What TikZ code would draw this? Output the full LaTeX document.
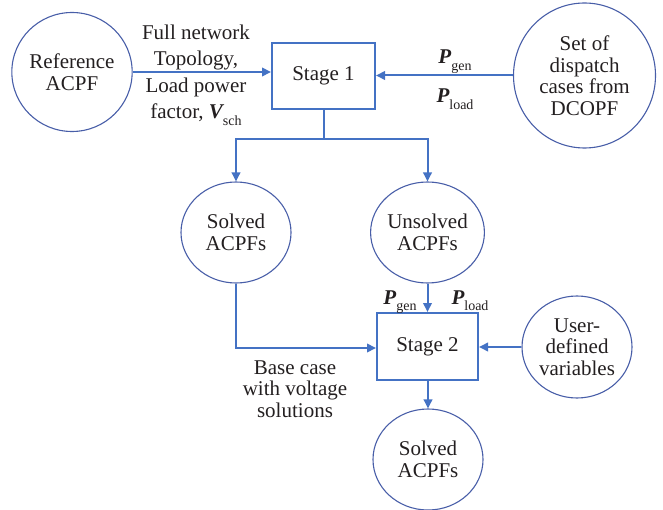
\documentclass[tikz,border=0pt]{standalone}
\usepackage{amsmath}
\usepackage{fontspec}
\setmainfont{Liberation Serif}
\newfontfamily\timesfont{Liberation Serif}
\usetikzlibrary{arrows.meta,shapes.geometric}
\definecolor{flow}{RGB}{68,114,196}
\definecolor{rim}{RGB}{72,94,168}
\definecolor{ink}{RGB}{35,31,32}
% bold italic quantity with an upright subscript, all in the text font
\newcommand{\qvar}[2]{{\bfseries\itshape #1}\raisebox{-0.32em}{\fontsize{14}{14}\selectfont #2}}
\begin{document}
\begin{tikzpicture}[x=1pt,y=-1pt,
  txt/.style={font=\timesfont\fontsize{21}{21.5}\selectfont, text=ink, align=center, inner sep=0pt},
  bubble/.style={ellipse, draw=rim, line width=1.1pt, txt},
  stagebox/.style={rectangle, draw=flow, line width=2pt, txt},
  flowline/.style={draw=flow, line width=2pt},
  flowarrow/.style={flowline, -{Triangle[length=9pt,width=8.5pt]}}]
\useasboundingbox (0,0) rectangle (663,510);

% inputs and stage 1
\node[bubble, minimum width=118pt, minimum height=119pt] (ref) at (72,72) {Reference\\ACPF};
\node[stagebox, minimum width=103pt, minimum height=66pt] (s1) at (323.5,76) {Stage 1};
\node[bubble, minimum width=142pt, minimum height=145pt] (dc) at (584.5,75.5) {Set of\\dispatch\\cases from\\DCOPF};

% results of stage 1
\node[bubble, minimum width=110pt, minimum height=101pt] (solved) at (236,232.5) {Solved\\ACPFs};
\node[bubble, minimum width=110pt, minimum height=101pt] (unsolved) at (427.5,232.5) {Unsolved\\ACPFs};

% stage 2
\node[stagebox, minimum width=101pt, minimum height=67pt] (s2) at (427.5,346.5) {Stage 2};
\node[bubble, minimum width=110pt, minimum height=102pt] (user) at (577,347) {User-\\defined\\variables};
\node[bubble, minimum width=110pt, minimum height=101pt] (final) at (428,459.5) {Solved\\ACPFs};

% connectors
\draw[flowarrow] (ref.east) -- (s1.west |- ref.east);
\draw[flowarrow] (dc.west) -- (s1.east |- dc.west);
\coordinate (split) at (323.5,139);
\draw[flowline] (s1.south) -- (split);
\draw[flowarrow] (split) -| (solved.north);
\draw[flowarrow] (split) -| (unsolved.north);
\draw[flowarrow] (unsolved.south) -- (s2.north -| unsolved.south);
\draw[flowarrow] (solved.south) |- (s2.west |- 0,348);
\draw[flowarrow] (user.west) -- (s2.east |- user.west);
\draw[flowarrow] (s2.south -| final.north) -- (final.north);

% labels
\node[txt, font=\timesfont\fontsize{21}{26.5}\selectfont] (lbl1) at (196,75) {Full network\\Topology,\\Load power\\factor, \qvar{V}{sch}};
\node[txt, anchor=base] (pg1) at (455,64) {\qvar{P}{gen}};
\node[txt, anchor=base] (pl1) at (455,103) {\qvar{P}{load}};
\node[txt, anchor=base] (pg2) at (400,304) {\qvar{P}{gen}};
\node[txt, anchor=base] (pl2) at (470,304) {\qvar{P}{load}};
\node[txt] (base) at (295,389) {Base case\\with voltage\\solutions};
\end{tikzpicture}
\end{document}
